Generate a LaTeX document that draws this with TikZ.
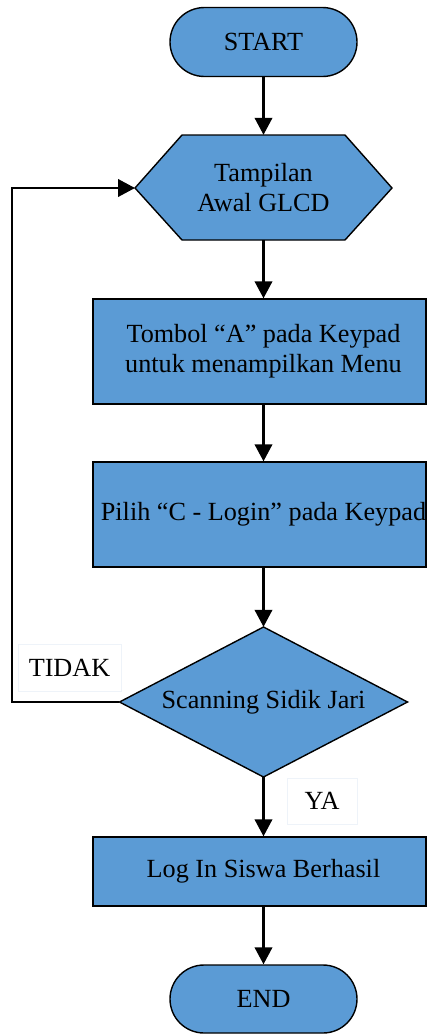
\documentclass[tikz,border=0pt]{standalone}
\usepackage{fontspec}
\setmainfont{Liberation Serif}
\usetikzlibrary{arrows.meta,shapes.geometric,shapes.misc}
\definecolor{boxblue}{HTML}{5B9BD5}
\definecolor{lblborder}{HTML}{EEF3F9}
\begin{document}
\begin{tikzpicture}[x=1pt,y=-1pt,
  every node/.style={font=\fontsize{26.2}{30}\selectfont, inner sep=0pt},
  shapeline/.style={draw=black, line width=1.4pt, fill=boxblue},
  outline/.style={draw=black, line width=1.4pt, fill=boxblue, line join=miter},
  term/.style={shapeline, rounded rectangle, minimum width=187pt, minimum height=69pt},
  procbox/.style={shapeline, rectangle, minimum width=333pt, align=center},
  lbl/.style={draw=lblborder, line width=1pt, fill=white},
  arr/.style={draw=black, line width=2.3pt, -{Triangle[width=17.5pt,length=17pt]}}]
\useasboundingbox (0,0) rectangle (428,1034);
% START
\node[term] (start) at (263.5,42) {START};
% hexagon
\coordinate (hexW) at (135,188);
\coordinate (hexE) at (392,188);
\draw[outline] (hexW) -- (182,135) -- (345,135) -- (hexE) -- (345,240) -- (182,240) -- cycle;
\node[minimum width=163pt, minimum height=105pt, align=center] (hex) at (263.5,187.5) {Tampilan\\Awal GLCD};
% process boxes
\node[procbox, minimum height=105pt] (menu) at (259.5,351.5) {\hspace*{8pt}Tombol “A” pada Keypad\\\hspace*{8pt}untuk menampilkan Menu};
\node[procbox, minimum height=105pt] (login) at (259.5,514.5) {\hspace*{8pt}Pilih “C - Login” pada Keypad};
% decision
\draw[outline] (119.5,702) -- (263.5,627) -- (407.5,702) -- (263.5,777) -- cycle;
\node[minimum width=288pt, minimum height=150pt] (scan) at (263.5,702) {Scanning Sidik Jari};
% success
\node[procbox, minimum height=69pt] (ok) at (259.5,871.5) {\hspace*{8pt}Log In Siswa Berhasil};
% END
\node[term, minimum height=68pt] (end) at (263.5,999) {END};
% labels
\node[lbl, minimum width=103pt, minimum height=47pt] (tidak) at (69.5,667.5) {TIDAK};
\node[lbl, minimum width=70pt, minimum height=46pt] (ya) at (322,801) {YA};
% connectors
\draw[arr] (start.south) -- (start.south |- hex.north);
\draw[arr] (hex.south) -- (hex.south |- menu.north);
\draw[arr] (hex.south |- menu.south) -- (hex.south |- login.north);
\draw[arr] (hex.south |- login.south) -- (scan.north);
\draw[arr] (scan.south) -- (scan.south |- ok.north);
\draw[arr] (scan.south |- ok.south) -- (end.north);
\coordinate (loopx) at (12,702);
\draw[arr, line join=miter] (scan.west) -- (loopx) |- (hexW);
\end{tikzpicture}
\end{document}
